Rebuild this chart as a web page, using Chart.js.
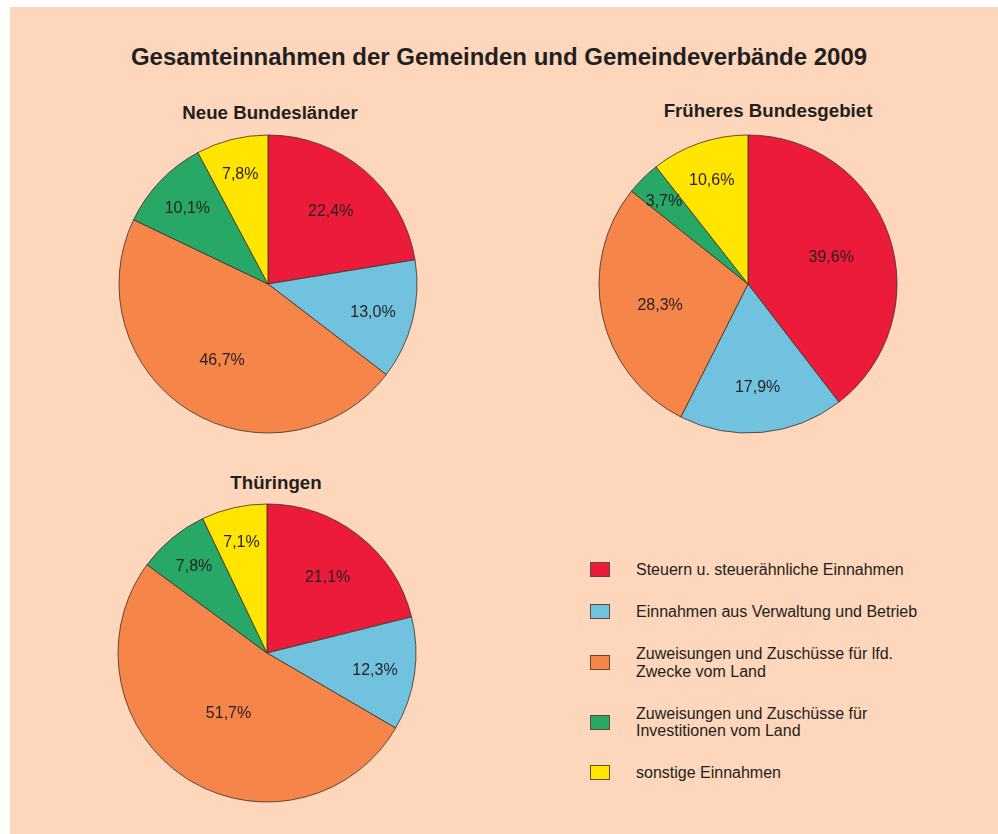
<!DOCTYPE html>
<html><head><meta charset="utf-8">
<script src="https://cdn.jsdelivr.net/npm/chart.js@4.4.1/dist/chart.umd.min.js"></script>
<style>
html,body{margin:0;padding:0;background:#fff;}
#wrap{position:relative;width:998px;height:834px;overflow:hidden;font-family:"Liberation Sans",Arial,sans-serif;color:#231f20;}
#bg{position:absolute;left:10px;top:7px;width:988px;height:827px;background:#FDD6BB;}
.t{position:absolute;font-weight:bold;white-space:nowrap;transform:translate(-50%,-50%);}
canvas{position:absolute;}
#legend{position:absolute;left:590px;top:561px;display:flex;flex-direction:column;gap:24.5px;}
.li{display:flex;align-items:center;font-size:16px;line-height:17.5px;}
.sw{width:18px;height:13px;border:1px solid #5a4a40;margin-right:26px;flex:none;}
.lt{width:300px;}
</style></head>
<body>
<div id="wrap">
<div id="bg"></div>
<div class="t" id="mainTitle" style="left:499px;top:57px;font-size:24px;"></div>
<div class="t" id="t1" style="left:270px;top:113px;font-size:18.7px;"></div>
<div class="t" id="t2" style="left:768px;top:111px;font-size:18.7px;"></div>
<div class="t" id="t3" style="left:276px;top:483px;font-size:18.7px;"></div>
<canvas id="c1" width="320" height="320" style="left:108px;top:124px;"></canvas>
<canvas id="c2" width="320" height="320" style="left:588px;top:124px;"></canvas>
<canvas id="c3" width="320" height="320" style="left:107px;top:493px;"></canvas>
<div id="legend"></div>
</div>
<script>
const mainTitle = "Gesamteinnahmen der Gemeinden und Gemeindeverbände 2009";
const pieTitles = ["Neue Bundesländer", "Früheres Bundesgebiet", "Thüringen"];
const categories = [
  "Steuern u. steuerähnliche Einnahmen",
  "Einnahmen aus Verwaltung und Betrieb",
  "Zuweisungen und Zuschüsse für lfd. Zwecke vom Land",
  "Zuweisungen und Zuschüsse für Investitionen vom Land",
  "sonstige Einnahmen"
];
const neueBundeslaender = [22.4, 13.0, 46.7, 10.1, 7.8];
const fruehheresBundesgebiet = [39.6, 17.9, 28.3, 3.7, 10.6];
const thueringen = [21.1, 12.3, 51.7, 7.8, 7.1];
const colors = ["#ED1B3A", "#71C2DE", "#F58549", "#27A866", "#FFE500"];

document.getElementById('mainTitle').textContent = mainTitle;
['t1','t2','t3'].forEach((id,i)=>document.getElementById(id).textContent = pieTitles[i]);

const leg = document.getElementById('legend');
categories.forEach((c,i)=>{
  const d = document.createElement('div'); d.className='li';
  const s = document.createElement('div'); s.className='sw'; s.style.background=colors[i];
  const t = document.createElement('div'); t.className='lt'; t.textContent=c;
  d.appendChild(s); d.appendChild(t); leg.appendChild(d);
});

const labelPlugin = {
  id:'sliceLabels',
  afterDatasetsDraw(chart){
    const ctx = chart.ctx;
    const ds = chart.data.datasets[0];
    const meta = chart.getDatasetMeta(0);
    ctx.save();
    ctx.font = '16px "Liberation Sans", Arial, sans-serif';
    ctx.fillStyle = '#231f20';
    ctx.textAlign = 'center';
    ctx.textBaseline = 'middle';
    meta.data.forEach((arc,i)=>{
      const p = arc.getProps(['x','y','startAngle','endAngle','outerRadius'], true);
      const v = ds.data[i];
      const mid = (p.startAngle + p.endAngle)/2;
      let f = v >= 50 ? 0.47 : Math.max(0.59, 0.83 - 0.008*v);
      const r = p.outerRadius * f;
      ctx.fillText(v.toFixed(1).replace('.', ',') + '%', p.x + Math.cos(mid)*r, p.y + Math.sin(mid)*r + 2);
    });
    ctx.restore();
  }
};

function makePie(id, values){
  new Chart(document.getElementById(id), {
    type:'pie',
    data:{labels:categories, datasets:[{data:values, backgroundColor:colors, borderColor:'#3a2e28', borderWidth:0.8}]},
    options:{
      responsive:false, animation:false, radius:149,
      layout:{padding:0},
      plugins:{legend:{display:false}, tooltip:{enabled:false}, title:{display:false}}
    },
    plugins:[labelPlugin]
  });
}
makePie('c1', neueBundeslaender);
makePie('c2', fruehheresBundesgebiet);
makePie('c3', thueringen);
</script>
</body></html>
